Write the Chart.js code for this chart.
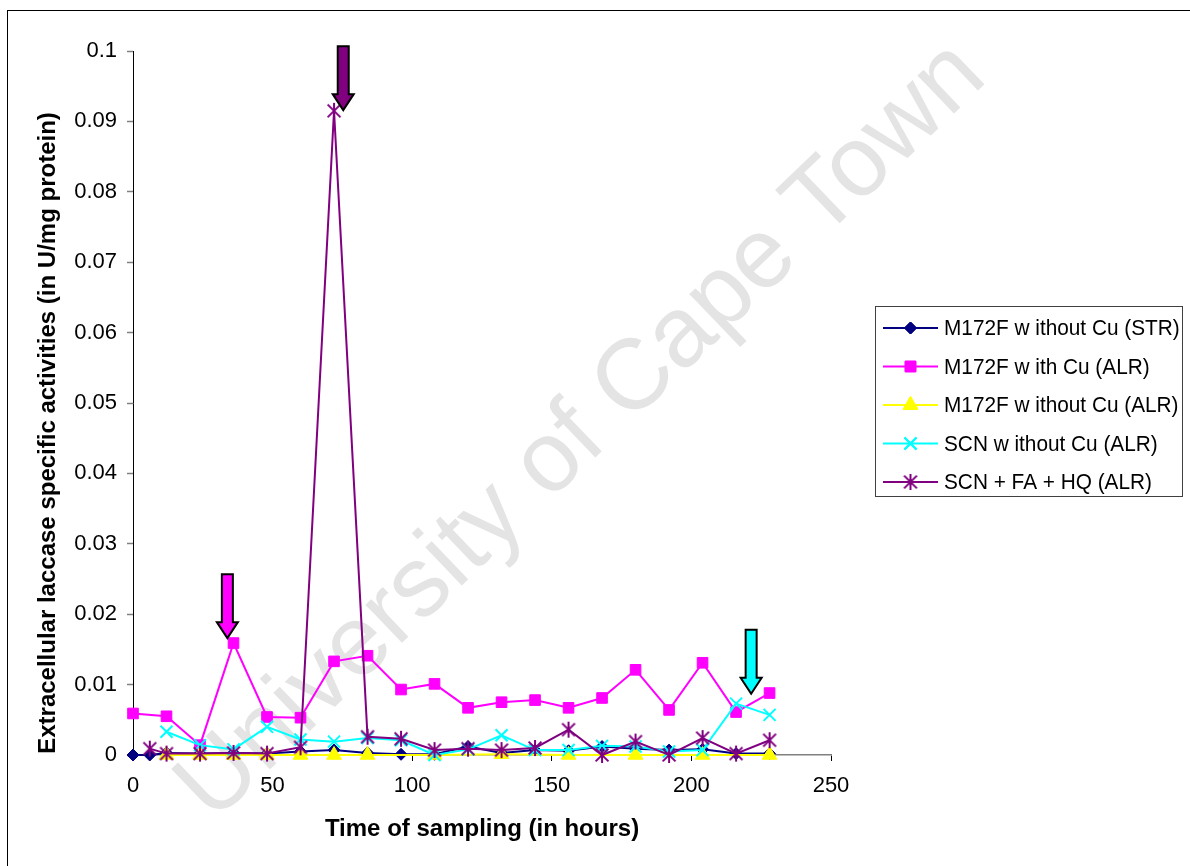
<!DOCTYPE html>
<html>
<head>
<meta charset="utf-8">
<script src="https://cdn.jsdelivr.net/npm/chart.js@4.4.0/dist/chart.umd.min.js"></script>
<style>
  html, body { margin: 0; padding: 0; background: #fff; }
  canvas { display: block; }
</style>
</head>
<body>
<canvas id="chart" width="1190" height="866"></canvas>
<script>
// Sampling times (hours) for each culture series
const hoursStr      = [0, 6, 12, 24, 36, 48, 60, 72, 84, 96, 108, 120, 132, 144, 156, 168, 180, 192, 204, 216, 228];
const hoursWithCu   = [0, 12, 24, 36, 48, 60, 72, 84, 96, 108, 120, 132, 144, 156, 168, 180, 192, 204, 216, 228];
const hoursNoCuAlr  = [12, 24, 36, 48, 60, 72, 84, 108, 132, 156, 180, 204, 228];
const hoursScn      = [12, 24, 36, 48, 60, 72, 84, 96, 108, 120, 132, 144, 156, 168, 180, 192, 204, 216, 228];
const hoursScnFaHq  = [6, 12, 24, 36, 48, 60, 72, 84, 96, 108, 120, 132, 144, 156, 168, 180, 192, 204, 216, 228];

// Extracellular laccase specific activities (U/mg protein)
const m172fNoCuStr  = [0, 0, 0.0003, 0.0002, 0.0003, 0.0002, 0.0005, 0.0007, 0.0003, 0.0001, 0.0001, 0.0012, 0.0003, 0.0007, 0.0006, 0.0012, 0.0009, 0.0007, 0.0008, 0.0002, 0.0002];
const m172fWithCu   = [0.0059, 0.0055, 0.0014, 0.0159, 0.0054, 0.0053, 0.0133, 0.0141, 0.0093, 0.0101, 0.0067, 0.0075, 0.0078, 0.0067, 0.0081, 0.0121, 0.0064, 0.0131, 0.0061, 0.0088];
const m172fNoCuAlr  = [0, 0, 0, 0, 0, 0, 0, 0, 0.0001, 0, 0, 0, 0];
const scnNoCu       = [0.0033, 0.0014, 0.0008, 0.0040, 0.0022, 0.0019, 0.0024, 0.0021, 0, 0.0008, 0.0028, 0.0007, 0.0007, 0.0013, 0.0012, 0.0005, 0.0007, 0.0073, 0.0057];
const scnFaHq       = [0.0009, 0.0002, 0.0002, 0.0003, 0.0002, 0.0011, 0.0915, 0.0026, 0.0023, 0.0007, 0.0009, 0.0007, 0.0010, 0.0036, 0, 0.0019, 0, 0.0024, 0.0002, 0.0021];

const seriesLabels = [
  'M172F w ithout Cu (STR)',
  'M172F w ith Cu (ALR)',
  'M172F w ithout Cu (ALR)',
  'SCN w ithout Cu (ALR)',
  'SCN + FA + HQ (ALR)'
];

const yTickLabels = ['0', '0.01', '0.02', '0.03', '0.04', '0.05', '0.06', '0.07', '0.08', '0.09', '0.1'];

// Peak markers: tip position in data units (hours, activity)
const peakArrows = [
  { x: 33.8, y: 0.0166, color: '#FF00FF' },
  { x: 75.3, y: 0.0916, color: '#800080' },
  { x: 221.4, y: 0.0087, color: '#00FFFF' }
];

const FONT = '"Liberation Sans", Arial, sans-serif';

// Asterisk marker: an X crossed by a vertical stroke
function makeAsterisk(color, r) {
  const s = Math.ceil(r * 2 + 4);
  const c = document.createElement('canvas');
  c.width = s; c.height = s;
  const g = c.getContext('2d');
  const m = s / 2;
  g.strokeStyle = color;
  g.lineWidth = 2;
  g.beginPath();
  const d = r * 0.8;
  g.moveTo(m - d, m - d); g.lineTo(m + d, m + d);
  g.moveTo(m + d, m - d); g.lineTo(m - d, m + d);
  g.moveTo(m, m - r); g.lineTo(m, m + r);
  g.stroke();
  return c;
}
const asteriskImg = makeAsterisk('#800080', 8);

function series(label, hours, values, color, style, radius, order, extra) {
  return Object.assign({
    label,
    data: hours.map((h, i) => ({ x: h, y: values[i] })),
    borderColor: color,
    backgroundColor: color,
    pointBorderColor: color,
    pointBackgroundColor: color,
    borderWidth: 2,
    pointStyle: style,
    pointRadius: radius,
    pointHoverRadius: radius,
    pointBorderWidth: 1,
    tension: 0,
    clip: false,
    order
  }, extra || {});
}

const datasets = [
  series(seriesLabels[0], hoursStr, m172fNoCuStr, '#000080', 'rectRot', 6, 5),
  series(seriesLabels[1], hoursWithCu, m172fWithCu, '#FF00FF', 'rect', 7.5, 4),
  series(seriesLabels[2], hoursNoCuAlr, m172fNoCuAlr, '#FFFF00', 'triangle', 8.5, 3),
  series(seriesLabels[3], hoursScn, scnNoCu, '#00FFFF', 'crossRot', 8.5, 2, { pointBorderWidth: 2 }),
  series(seriesLabels[4], hoursScnFaHq, scnFaHq, '#800080', asteriskImg, 8, 1)
];

function drawMarker(ctx, ds, x, y) {
  if (ds.pointStyle instanceof HTMLCanvasElement) {
    ctx.drawImage(ds.pointStyle, x - ds.pointStyle.width / 2, y - ds.pointStyle.height / 2);
    return;
  }
  Chart.helpers.drawPoint(ctx, {
    pointStyle: ds.pointStyle,
    radius: ds.pointRadius,
    rotation: 0,
    borderWidth: ds.pointBorderWidth
  }, x, y);
  ctx.fill();
  ctx.stroke();
}

const decorations = {
  id: 'decorations',
  beforeDatasetsDraw(chart) {
    // faint diagonal watermark
    const ctx = chart.ctx;
    ctx.save();
    const text = 'University of Cape Town';
    ctx.font = '95px ' + FONT;
    const w = ctx.measureText(text).width;
    const size = 95 * 1075 / w;
    ctx.font = size + 'px ' + FONT;
    ctx.translate(582, 432);
    ctx.rotate(-43.8 * Math.PI / 180);
    ctx.fillStyle = '#e4e4e4';
    ctx.textAlign = 'center';
    ctx.textBaseline = 'middle';
    ctx.fillText(text, 0, 0);
    ctx.restore();
  },
  afterDatasetsDraw(chart) {
    const ctx = chart.ctx;
    const xs = chart.scales.x, ys = chart.scales.y;
    // block arrows pointing at the activity peaks
    peakArrows.forEach(a => {
      const tx = xs.getPixelForValue(a.x);
      const ty = ys.getPixelForValue(a.y);
      const len = 64, shaftHalf = 5.5, headHalf = 10.5, headH = 16;
      ctx.save();
      ctx.beginPath();
      ctx.moveTo(tx - shaftHalf, ty - len);
      ctx.lineTo(tx + shaftHalf, ty - len);
      ctx.lineTo(tx + shaftHalf, ty - headH);
      ctx.lineTo(tx + headHalf, ty - headH);
      ctx.lineTo(tx, ty);
      ctx.lineTo(tx - headHalf, ty - headH);
      ctx.lineTo(tx - shaftHalf, ty - headH);
      ctx.closePath();
      ctx.fillStyle = a.color;
      ctx.fill();
      ctx.lineWidth = 2;
      ctx.lineJoin = 'miter';
      ctx.strokeStyle = '#000';
      ctx.stroke();
      ctx.restore();
    });
  },
  afterDraw(chart) {
    const ctx = chart.ctx;
    const area = chart.chartArea;
    ctx.save();
    // axis titles
    ctx.fillStyle = '#000';
    ctx.font = 'bold 24px ' + FONT;
    ctx.textAlign = 'center';
    ctx.textBaseline = 'middle';
    ctx.fillText('Time of sampling (in hours)', (area.left + area.right) / 2, 829);
    ctx.save();
    ctx.translate(48, 433);
    ctx.rotate(-Math.PI / 2);
    ctx.fillText('Extracellular laccase specific activities (in U/mg protein)', 0, 0);
    ctx.restore();

    // legend box
    ctx.lineWidth = 1;
    ctx.strokeStyle = '#404040';
    ctx.strokeRect(875.5, 306.5, 307, 190);
    ctx.font = '22px ' + FONT;
    ctx.textAlign = 'left';
    datasets.forEach((ds, i) => {
      const y = 328 + i * 38.5;
      ctx.strokeStyle = ds.borderColor;
      ctx.lineWidth = 2;
      ctx.beginPath();
      ctx.moveTo(883, y);
      ctx.lineTo(938, y);
      ctx.stroke();
      ctx.fillStyle = ds.pointBackgroundColor;
      ctx.strokeStyle = ds.pointBorderColor;
      ctx.lineWidth = ds.pointBorderWidth;
      drawMarker(ctx, ds, 910.5, y);
      ctx.save();
      ctx.translate(944, y + 1);
      ctx.scale(0.945, 1);
      ctx.fillStyle = '#000';
      ctx.fillText(ds.label, 0, 0);
      ctx.restore();
    });

    // outer frame
    ctx.strokeStyle = '#000';
    ctx.lineWidth = 1;
    ctx.strokeRect(7.5, 10.5, 1200, 900);
    ctx.restore();
  }
};

new Chart(document.getElementById('chart'), {
  type: 'line',
  data: { datasets },
  options: {
    responsive: false,
    animation: false,
    layout: { padding: { left: 0, top: 51, right: 359, bottom: 0 } },
    plugins: { legend: { display: false }, tooltip: { enabled: false } },
    scales: {
      x: {
        type: 'linear',
        min: 0, max: 250,
        afterFit(scale) { scale.height = 111; },
        ticks: { stepSize: 50, color: '#000', padding: 12, font: { family: FONT, size: 22 }, maxRotation: 0 },
        grid: { drawOnChartArea: false, drawTicks: true, tickLength: 6, tickColor: '#000' },
        border: { color: '#808080', width: 1.5 }
      },
      y: {
        type: 'linear',
        min: 0, max: 0.1,
        afterFit(scale) { scale.width = 133; },
        ticks: {
          stepSize: 0.01, color: '#000', padding: 10,
          font: { family: FONT, size: 22 },
          callback: (v, i) => yTickLabels[i]
        },
        grid: { drawOnChartArea: false, drawTicks: true, tickLength: 6, tickColor: '#808080', tickWidth: 1.5 },
        border: { color: '#000', width: 1 }
      }
    }
  },
  plugins: [decorations]
});
</script>
</body>
</html>
